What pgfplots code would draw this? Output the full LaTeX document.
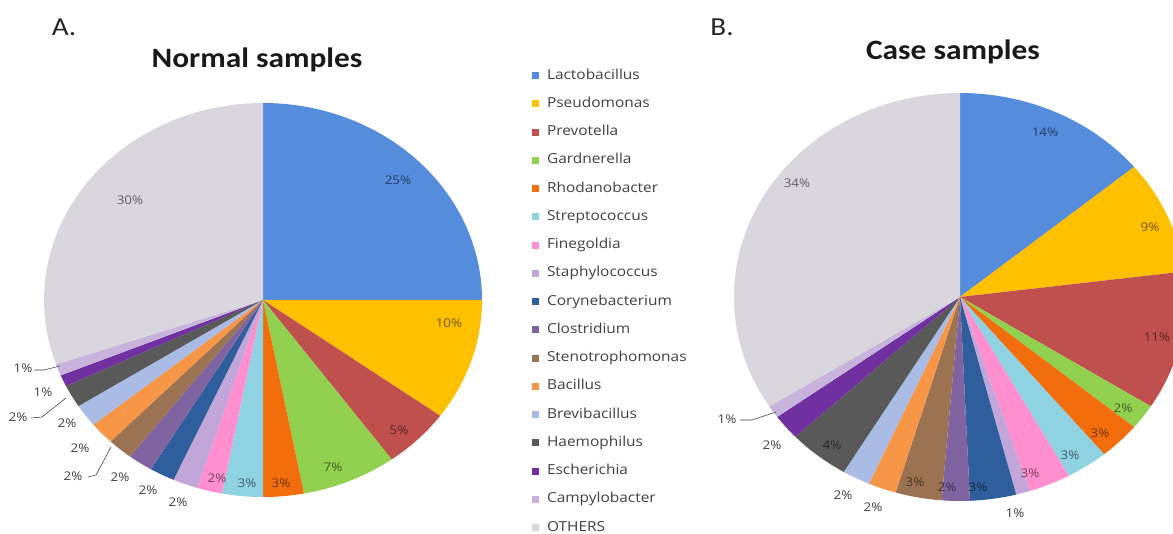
\documentclass[border=0pt]{standalone}
\usepackage{pgfplots}
\pgfplotsset{compat=1.18}
\usepackage{pgfplotstable}
\usepackage{fontspec}
\setmainfont{Open Sans}[FakeStretch=1.12]
\newfontfamily\titlefont{Carlito}[FakeStretch=1.12]

\definecolor{c0}{HTML}{558CDC}
\definecolor{c1}{HTML}{FFC000}
\definecolor{c2}{HTML}{C0504D}
\definecolor{c3}{HTML}{92D050}
\definecolor{c4}{HTML}{F26E0C}
\definecolor{c5}{HTML}{8FD3E3}
\definecolor{c6}{HTML}{FF8FCF}
\definecolor{c7}{HTML}{C2A6D9}
\definecolor{c8}{HTML}{2F5E9C}
\definecolor{c9}{HTML}{8064A2}
\definecolor{c10}{HTML}{9C7352}
\definecolor{c11}{HTML}{F79646}
\definecolor{c12}{HTML}{AABCE6}
\definecolor{c13}{HTML}{595959}
\definecolor{c14}{HTML}{7030A0}
\definecolor{c15}{HTML}{C7B3DB}
\definecolor{c16}{HTML}{D9D7DD}
\definecolor{txt}{HTML}{404040}

% Normal samples: share (%), label position (image px), label inside slice?
\pgfplotstableread{
v     lx    ly   inside
25    398   180  1
10    449   323  1
5     399   430  1
7     333   467  1
3     281   483  1
3     247   483  1
1.85  217   478  1
1.85  178   502  0
1.85  148   490  0
1.85  120   477  0
1.85  73    476  0
1.85  80    448  0
1.85  67    423  0
1.85  18    417  0
0.95  43    392  0
0.95  23    368  0
30.3  130   200  1
}\normaldata

% Case samples
\pgfplotstableread{
v     lx    ly   inside
14    1045  132  1
9     1150  227  1
11    1157  337  1
2     1123  408  1
3     1100  433  1
3     1070  455  1
3     1030  473  1
1     1015  513  0
3.3   978   487  1
2     947   487  1
3.3   915   482  1
2     873   507  0
2     843   495  0
4.4   832   445  1
2     772   445  0
1     727   419  0
34    797   183  1
}\casedata

\newcommand\drawpie[5]{%
  \pgfplotstablegetrowsof{#1}%
  \pgfmathtruncatemacro\lastrow{\pgfplotsretval-1}%
  \gdef\piecum{0}%
  \foreach \i in {0,...,\lastrow}{%
    \pgfplotstablegetelem{\i}{v}\of{#1}\let\v\pgfplotsretval
    \pgfmathsetmacro\sa{90-3.6*\piecum}%
    \pgfmathsetmacro\ea{90-3.6*(\piecum+\v)}%
    \fill[c\i] (axis cs:#2,#3) -- ++(\sa:#4pt and #5pt)
      arc[start angle=\sa, end angle=\ea, x radius=#4pt, y radius=#5pt] -- cycle;
    \pgfmathsetmacro\nc{\piecum+\v}\xdef\piecum{\nc}%
  }%
  \foreach \i in {0,...,\lastrow}{%
    \pgfplotstablegetelem{\i}{v}\of{#1}\let\v\pgfplotsretval
    \pgfplotstablegetelem{\i}{lx}\of{#1}\let\lx\pgfplotsretval
    \pgfplotstablegetelem{\i}{ly}\of{#1}\let\ly\pgfplotsretval
    \pgfplotstablegetelem{\i}{inside}\of{#1}\let\ins\pgfplotsretval
    \ifnum\ins=1 \def\lc{c\i!45!black}\else\def\lc{txt}\fi
    \node[text=\lc, inner sep=0pt, font=\fontsize{12}{12}\selectfont]
      at (axis cs:\lx,\ly) {\pgfmathprintnumber[fixed,precision=0,assume math mode=true]{\v}\%};
  }%
}

\begin{document}
\begin{tikzpicture}
\useasboundingbox (0,0) rectangle (1173pt,534pt);
\begin{axis}[
  at={(0,0)}, anchor=south west,
  hide axis, scale only axis,
  width=1173pt, height=534pt,
  xmin=0, xmax=1173, ymin=0, ymax=534, y dir=reverse,
  legend cell align=left,
  legend image code/.code={\fill[#1] (0pt,-3.5pt) rectangle (7pt,3.5pt);},
  legend style={at={(axis cs:532,69)}, anchor=north west, draw=none, fill=none,
    inner sep=0pt, outer sep=0pt, row sep=15.25pt, column sep=8pt,
    font=\fontsize{13.8}{14}\selectfont, text=txt,
    nodes={inner sep=0pt, text height=10pt, text depth=3pt}},
]
\pgfplotsextra{\drawpie{\normaldata}{263}{300}{219}{197}}
\pgfplotsextra{\drawpie{\casedata}{960}{297}{226}{204}}

\addlegendimage{fill=c0, draw=none}\addlegendentry{Lactobacillus}
\addlegendimage{fill=c1, draw=none}\addlegendentry{Pseudomonas}
\addlegendimage{fill=c2, draw=none}\addlegendentry{Prevotella}
\addlegendimage{fill=c3, draw=none}\addlegendentry{Gardnerella}
\addlegendimage{fill=c4, draw=none}\addlegendentry{Rhodanobacter}
\addlegendimage{fill=c5, draw=none}\addlegendentry{Streptococcus}
\addlegendimage{fill=c6, draw=none}\addlegendentry{Finegoldia}
\addlegendimage{fill=c7, draw=none}\addlegendentry{Staphylococcus}
\addlegendimage{fill=c8, draw=none}\addlegendentry{Corynebacterium}
\addlegendimage{fill=c9, draw=none}\addlegendentry{Clostridium}
\addlegendimage{fill=c10, draw=none}\addlegendentry{Stenotrophomonas}
\addlegendimage{fill=c11, draw=none}\addlegendentry{Bacillus}
\addlegendimage{fill=c12, draw=none}\addlegendentry{Brevibacillus}
\addlegendimage{fill=c13, draw=none}\addlegendentry{Haemophilus}
\addlegendimage{fill=c14, draw=none}\addlegendentry{Escherichia}
\addlegendimage{fill=c15, draw=none}\addlegendentry{Campylobacter}
\addlegendimage{fill=c16, draw=none}\addlegendentry{OTHERS}

% leader lines
\draw[txt, line width=0.6pt] (axis cs:34,370) -- (axis cs:44,370) -- (axis cs:60,366);
\draw[txt, line width=0.6pt] (axis cs:31,418) -- (axis cs:42,417) -- (axis cs:66,398);
\draw[txt, line width=0.6pt] (axis cs:88,477) -- (axis cs:96,475) -- (axis cs:111,447);
\draw[txt, line width=0.6pt] (axis cs:740,420) -- (axis cs:752,420) -- (axis cs:776,412);

% titles
\node[font=\titlefont\bfseries\fontsize{28}{30}\selectfont, text=black!90]
  at (axis cs:257,60) {Normal samples};
\node[font=\titlefont\bfseries\fontsize{28}{30}\selectfont, text=black!90]
  at (axis cs:953,52) {Case samples};
\node[font=\titlefont\fontsize{26}{28}\selectfont, text=black!85]
  at (axis cs:64,27) {A.};
\node[font=\titlefont\fontsize{26}{28}\selectfont, text=black!85]
  at (axis cs:722,27) {B.};
\end{axis}
\end{tikzpicture}
\end{document}
